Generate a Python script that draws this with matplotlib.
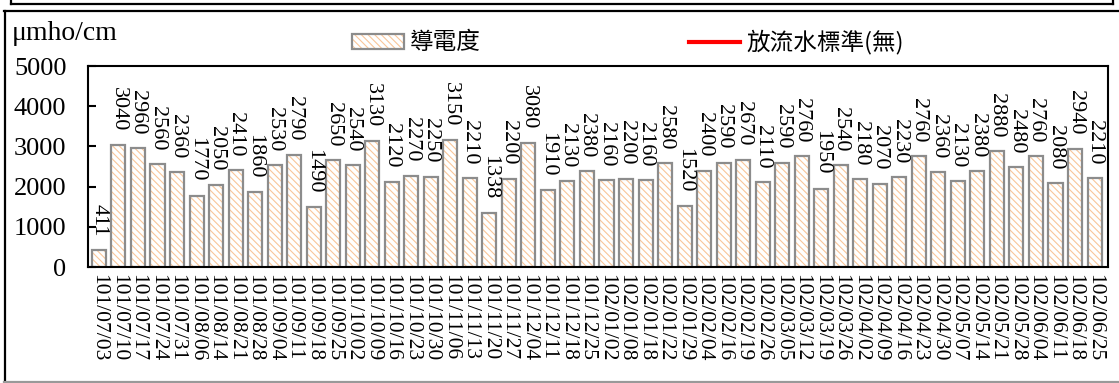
import matplotlib.pyplot as plt
from matplotlib.lines import Line2D
import numpy as np

# 放流水導電度 weekly readings (民國年/月/日)
fechas = [
    '101/07/03', '101/07/10', '101/07/17', '101/07/24', '101/07/31', '101/08/06',
    '101/08/14', '101/08/21', '101/08/28', '101/09/04', '101/09/11', '101/09/18',
    '101/09/25', '101/10/02', '101/10/09', '101/10/16', '101/10/23', '101/10/30',
    '101/11/06', '101/11/13', '101/11/20', '101/11/27', '101/12/04', '101/12/11',
    '101/12/18', '101/12/25', '102/01/02', '102/01/08', '102/01/18', '102/01/22',
    '102/01/29', '102/02/04', '102/02/16', '102/02/19', '102/02/26', '102/03/05',
    '102/03/12', '102/03/19', '102/03/26', '102/04/02', '102/04/09', '102/04/16',
    '102/04/23', '102/04/30', '102/05/07', '102/05/14', '102/05/21', '102/05/28',
    '102/06/04', '102/06/11', '102/06/18', '102/06/25',
]
conductividad = [
    411, 3040, 2960, 2560, 2360, 1770,
    2050, 2410, 1860, 2530, 2790, 1490,
    2650, 2540, 3130, 2120, 2270, 2250,
    3150, 2210, 1338, 2200, 3080, 1910,
    2130, 2380, 2160, 2200, 2160, 2580,
    1520, 2400, 2590, 2670, 2110, 2590,
    2760, 1950, 2540, 2180, 2070, 2230,
    2760, 2360, 2130, 2380, 2880, 2480,
    2760, 2080, 2940, 2210,
]
y_ticks = [0, 1000, 2000, 3000, 4000, 5000]

W, H = 1119, 383
SERIF = 'Liberation Serif'
HATCH_COLOR = '#F9C69A'
EDGE_COLOR = '#8C8C8C'


def fx(px):
    return px / W


def fy(py):
    return 1 - py / H


def marco(fig):
    # upper box edge and the outer frame around the chart
    lineas = [
        ([11, 11], [0, 3.5], 'black'),
        ([1113, 1113], [0, 3.5], 'black'),
        ([11, 1113], [3.5, 3.5], 'black'),
        ([4, W], [10.5, 10.5], 'black'),
        ([4.5, 4.5], [10.5, 381.5], 'black'),
        ([4, W], [381.5, 381.5], '#999999'),
    ]
    for xs, ys, c in lineas:
        fig.add_artist(Line2D([fx(v) for v in xs], [fy(v) for v in ys],
                              transform=fig.transFigure, color=c, linewidth=1.6))


def main():
    plt.rcParams['hatch.linewidth'] = 0.8

    fig = plt.figure(figsize=(W / 100, H / 100), dpi=100)
    ax = fig.add_axes([fx(88), fy(267), fx(1108 - 88), (267 - 66) / H])

    x = np.arange(len(fechas))
    relleno = ax.bar(x, conductividad, 0.72, color='white', edgecolor=HATCH_COLOR,
                     hatch='\\\\\\\\\\', linewidth=0)
    borde = ax.bar(x, conductividad, 0.72, fill=False, edgecolor=EDGE_COLOR, linewidth=1.6)
    norma, = ax.plot([], [], color='red', linewidth=3)

    for xi, v in zip(x, conductividad):
        ax.annotate(str(v), (xi, v), xytext=(0, 10), textcoords='offset points',
                    rotation=270, ha='center', va='bottom', fontsize=16, family=SERIF)

    ax.set_xlim(-0.56, len(fechas) - 0.31)
    ax.set_ylim(0, 5000)
    ax.set_yticks(y_ticks)
    ax.set_yticklabels([str(t) for t in y_ticks], fontsize=19, family=SERIF)
    ax.set_xticks(x)
    ax.set_xticklabels(fechas, rotation=270, fontsize=15.5, family=SERIF)
    ax.tick_params(axis='y', direction='in', length=6, width=1.5, pad=15.5)
    ax.tick_params(axis='x', length=0, pad=5)
    for s in ax.spines.values():
        s.set_linewidth(1.5)

    fig.text(fx(12), fy(34), 'μmho/cm', fontsize=20, family=SERIF, va='center')

    fig.legend([(relleno, borde), norma], ['導電度', '放流水標準(無)'],
               loc='center left', bbox_to_anchor=(fx(352), fy(42)), ncol=2,
               frameon=False, borderpad=0, borderaxespad=0,
               handlelength=2.2, handleheight=0.6, handletextpad=0.25,
               columnspacing=8.8, prop={'family': 'Noto Sans CJK TC', 'size': 17})

    marco(fig)
    fig.savefig('out.png', dpi=100)
    plt.close(fig)


if __name__ == '__main__':
    main()
